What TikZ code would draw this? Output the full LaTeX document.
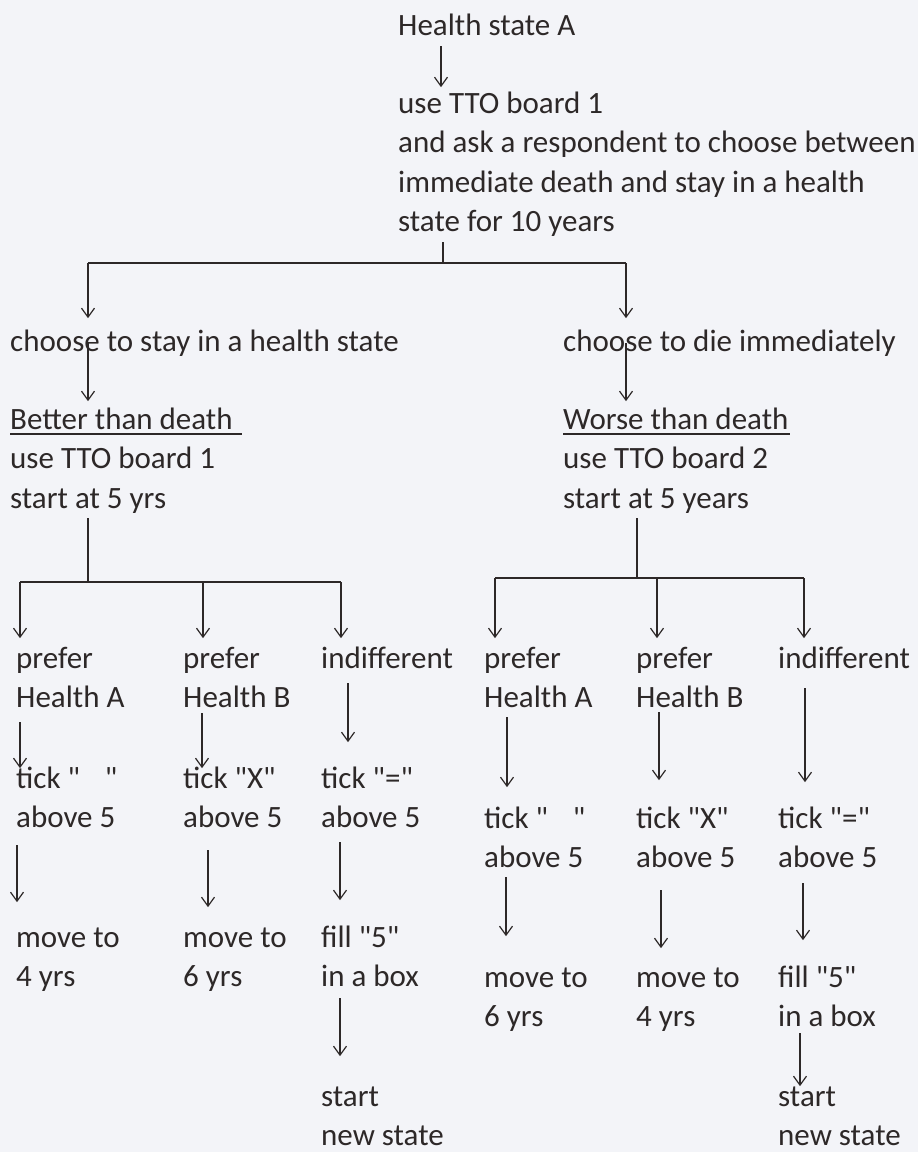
\documentclass[tikz,border=0pt]{standalone}
\usepackage{fontspec}
\setmainfont{Carlito}[Ligatures=TeXOff]
\usetikzlibrary{arrows.meta}
\definecolor{paper}{RGB}{243,244,248}
\definecolor{ink}{RGB}{45,40,40}
\newcommand{\lns}[1]{\begin{tabular}[t]{@{}l@{}}#1\end{tabular}}
\newcommand{\lnsb}[1]{\raisebox{0pt}[\height][\dimexpr\depth-9pt\relax]{\lns{#1}}}
\newcommand{\undl}[1]{\setbox0\hbox{#1}\rlap{\rule[-6pt]{\wd0}{2.2pt}}\box0}

\tikzset{
  txt/.style={anchor=base west, inner sep=0pt, text=ink, font=\fontsize{31}{39.5}\selectfont},
  arr/.style={draw=ink, line width=1.2pt, -{Straight Barb[length=9pt,width=13pt]}},
  ln/.style={draw=ink, line width=1.2pt},
  bar/.style={draw=ink, line width=2.2pt}
}

\begin{document}
\begin{tikzpicture}[x=1pt, y=-1pt]
  \fill[paper] (0,0) rectangle (918,1152);
  \useasboundingbox (0,0) rectangle (918,1152);

  \node[txt] (hsa) at (398,35) {\lns{Health state A}};
  \node[txt] (ask) at (398,113) {\lns{use TTO board 1\\and ask a respondent to choose between\\immediate death and stay in a health\\state for 10 years}};
  \node[txt] (stay) at (10,351) {\lns{choose to stay in a health state}};
  \node[txt] (die) at (563,351) {\lns{choose to die immediately}};
  \node[txt] (better) at (10,429) {\lns{\undl{Better than death\kern9pt}\\use TTO board 1\\start at 5 yrs}};
  \node[txt] (worse) at (563,429) {\lns{\undl{Worse than death\kern2pt}\\use TTO board 2\\start at 5 years}};

  \begin{scope}
    \node[txt] (prefA) at (16,668) {\lns{prefer\\Health A}};
    \node[txt] (prefB) at (183,668) {\lns{prefer\\Health B}};
    \node[txt] (indif) at (321,668) {\lns{indifferent}};
    \node[txt] (tickA) at (16,788) {\lns{tick "\hspace{0.8em}"\\above 5}};
    \node[txt] (tickB) at (183,788) {\lns{tick "X"\\above 5}};
    \node[txt] (tickE) at (321,788) {\lns{tick "="\\above 5}};
    \node[txt] (moveA) at (16,947) {\lns{move to\\4 yrs}};
    \node[txt] (moveB) at (183,947) {\lns{move to\\6 yrs}};
    \node[txt] (fillE) at (321,947) {\lns{fill "5"\\in a box}};
    \node[txt] (newE) at (321,1106) {\lnsb{start\\new state}};
  \end{scope}
  \begin{scope}
    \node[txt] (wprefA) at (484,668) {\lns{prefer\\Health A}};
    \node[txt] (wprefB) at (636,668) {\lns{prefer\\Health B}};
    \node[txt] (windif) at (778,668) {\lns{indifferent}};
    \node[txt] (wtickA) at (484,828) {\lns{tick "\hspace{0.8em}"\\above 5}};
    \node[txt] (wtickB) at (636,828) {\lns{tick "X"\\above 5}};
    \node[txt] (wtickE) at (778,828) {\lns{tick "="\\above 5}};
    \node[txt] (wmoveA) at (484,987) {\lns{move to\\6 yrs}};
    \node[txt] (wmoveB) at (636,987) {\lns{move to\\4 yrs}};
    \node[txt] (wfillE) at (778,987) {\lns{fill "5"\\in a box}};
    \node[txt] (wnewE) at (778,1106) {\lnsb{start\\new state}};
  \end{scope}

  \coordinate (top) at (441,46);
  \coordinate (split) at (443,242);
  \coordinate (bl) at (88,263);
  \coordinate (br) at (626,263);
  \coordinate (stayx) at (88,343);
  \coordinate (diex) at (626,343);
  \coordinate (lsplit) at (88,518);
  \coordinate (ll) at (20,582);
  \coordinate (lm) at (203,582);
  \coordinate (lr) at (341,582);
  \coordinate (rsplit) at (637,518);
  \coordinate (rl) at (495,578);
  \coordinate (rm) at (657,578);
  \coordinate (rr) at (804,578);

  \draw[arr, shorten >=-2pt] (top) -- (top |- ask.north);
  \draw[ln] (split) -- (split |- bl);
  \draw[bar] (bl) -- (br);
  \draw[arr, shorten >=5pt] (bl) -- (bl |- stay.north);
  \draw[arr, shorten >=5pt] (br) -- (br |- die.north);
  \draw[arr] (stayx) -- (stayx |- better.north);
  \draw[arr] (diex) -- (diex |- worse.north);

  \draw[ln] (lsplit) -- (lsplit |- ll);
  \draw[bar] (ll) -- (lr);
  \draw[arr, shorten >=2pt] (ll) -- (ll |- prefA.north);
  \draw[arr, shorten >=2pt] (lm) -- (lm |- prefB.north);
  \draw[arr, shorten >=2pt] (lr) -- (lr |- indif.north);
  \draw[ln] (rsplit) -- (rsplit |- rl);
  \draw[bar] (rl) -- (rr);
  \draw[arr, shorten >=2pt] (rl) -- (rl |- wprefA.north);
  \draw[arr, shorten >=2pt] (rm) -- (rm |- wprefB.north);
  \draw[arr, shorten >=2pt] (rr) -- (rr |- windif.north);

  \draw[arr, shorten >=-8pt] (20,722) -- (20,722 |- tickA.north);
  \draw[arr, shorten >=-8pt] (202,713) -- (202,713 |- tickB.north);
  \draw[arr, shorten >=18pt] (348,683) -- (348,683 |- tickE.north);
  \draw[arr, shorten >=17pt] (17,845) -- (17,845 |- moveA.north);
  \draw[arr, shorten >=12pt] (208,850) -- (208,850 |- moveB.north);
  \draw[arr, shorten >=19pt] (340,842) -- (340,842 |- fillE.north);
  \draw[arr, shorten >=22pt] (340,998) -- (340,998 |- newE.north);

  \draw[arr, shorten >=13pt] (507,717) -- (507,717 |- wtickA.north);
  \draw[arr, shorten >=20pt] (659,712) -- (659,712 |- wtickB.north);
  \draw[arr, shorten >=18pt] (805,688) -- (805,688 |- wtickE.north);
  \draw[arr, shorten >=23pt] (506,877) -- (506,877 |- wmoveA.north);
  \draw[arr, shorten >=11pt] (661,890) -- (661,890 |- wmoveB.north);
  \draw[arr, shorten >=19pt] (803,883) -- (803,883 |- wfillE.north);
  \draw[arr, shorten >=-8pt] (800,1033) -- (800,1033 |- wnewE.north);
\end{tikzpicture}
\end{document}
